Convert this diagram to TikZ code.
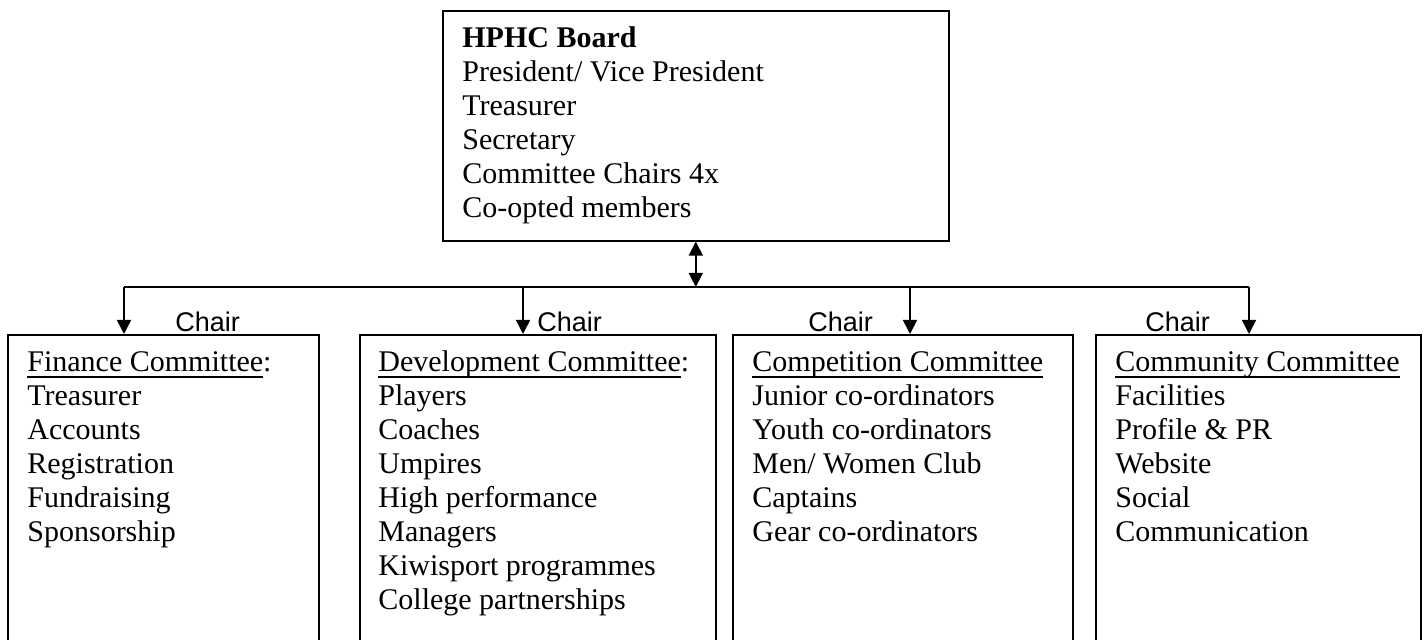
\documentclass[tikz,border=0pt]{standalone}
\usepackage{fontspec}
\setmainfont{Liberation Serif}
\setsansfont{Liberation Sans}
\usetikzlibrary{arrows.meta}

\newcommand{\uword}[1]{\setbox0\hbox{#1}\rlap{\rule[-3pt]{\wd0}{0.9pt}}\box0}

\tikzset{
  frame/.style={draw, line width=0.8pt, anchor=north west, inner sep=0pt},
  list/.style={anchor=base west, align=left, inner sep=0pt, font=\fontsize{15}{17}\selectfont},
  chair/.style={anchor=base west, inner sep=0pt, font=\sffamily\fontsize{13.5}{15}\selectfont},
  link/.style={line width=0.8pt},
  tip/.style={-{Triangle[width=7pt,length=7pt]}}
}

\begin{document}
\begin{tikzpicture}[x=0.5pt, y=-0.5pt]
  \useasboundingbox (0,0) rectangle (1424,640);

  \node[frame, minimum width=253pt, minimum height=115pt] (Board) at (442,10) {};
  \node[frame, minimum width=155.5pt, minimum height=163pt] (Fin) at (7,334) {};
  \node[frame, minimum width=178pt, minimum height=163pt] (Dev) at (359,334) {};
  \node[frame, minimum width=170pt, minimum height=163pt] (Comp) at (732,334) {};
  \node[frame, minimum width=162.5pt, minimum height=163pt] (Comm) at (1095,334) {};

  % lists sit on the baseline of their last line
  \node[list] (BoardText) at (462,218) {\textbf{HPHC Board}\\President/ Vice President\\Treasurer\\Secretary\\Committee Chairs 4x\\Co-opted members};
  \node[list] (FinText) at (27,542) {\uword{Finance Committee}:\\Treasurer\\Accounts\\Registration\\Fundraising\\Sponsorship};
  \node[list] (DevText) at (378,610) {\uword{Development Committee}:\\Players\\Coaches\\Umpires\\High performance\\Managers\\Kiwisport programmes\\College partnerships};
  \node[list] (CompText) at (752,542) {\uword{Competition Committee}\\Junior co-ordinators\\Youth co-ordinators\\Men/ Women Club\\Captains\\Gear co-ordinators};
  \node[list] (CommText) at (1115,542) {\uword{Community Committee}\\Facilities\\Profile \& PR\\Website\\Social\\Communication};

  \node[chair] (FinChair) at (175,332) {Chair};
  \node[chair] (DevChair) at (537,332) {Chair};
  \node[chair] (CompChair) at (808,332) {Chair};
  \node[chair] (CommChair) at (1145,332) {Chair};

  \coordinate (busF) at (124,287);
  \coordinate (busD) at (523,287);
  \coordinate (busC) at (910,287);
  \coordinate (busM) at (1249,287);

  \draw[link, {Triangle[width=7pt,length=7pt]}-{Triangle[width=7pt,length=7pt]}] (Board.south) -- (Board.south |- busF);
  \draw[link] (busF) -- (busM);
  \draw[link, tip] (busF) -- (busF |- Fin.north);
  \draw[link, tip] (busD) -- (busD |- Dev.north);
  \draw[link, tip] (busC) -- (busC |- Comp.north);
  \draw[link, tip] (busM) -- (busM |- Comm.north);
\end{tikzpicture}
\end{document}
